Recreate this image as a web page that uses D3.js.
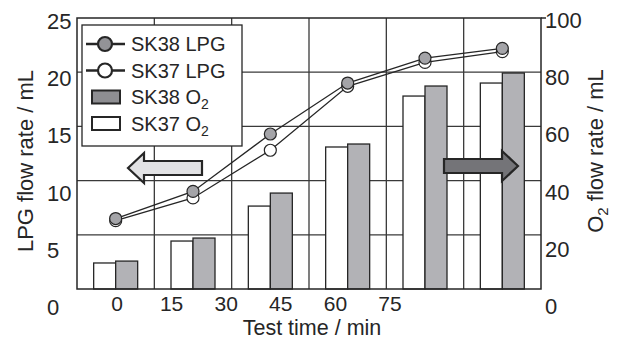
<!DOCTYPE html>
<html>
<head>
<meta charset="utf-8">
<script src="https://cdn.jsdelivr.net/npm/d3@7"></script>
<style>
  body { margin: 0; background: #fff; }
  svg { display: block; font-family: "Liberation Sans", Arial, sans-serif; }
</style>
</head>
<body>
<svg id="chart" width="626" height="340"></svg>
<script>
// values
const times = [0, 15, 30, 45, 60, 75];
const sk38Lpg = [6.5, 9.0, 14.3, 19.0, 21.3, 22.2];
const sk37Lpg = [6.3, 8.4, 12.8, 18.7, 20.9, 21.9];
const sk38O2 = [10.3, 18.8, 35.4, 53.5, 74.9, 79.7];
const sk37O2 = [9.6, 17.7, 30.6, 52.4, 71.2, 76.0];
const lpgTicks = [0, 5, 10, 15, 20, 25];
const o2Ticks = [0, 20, 40, 60, 80, 100];
const timeTicks = [0, 15, 30, 45, 60, 75];

const W = 626, H = 340;
const plot = {left: 77, right: 541, top: 18, bottom: 289};
const ink = '#262626';

const svg = d3.select('#chart');
svg.append('rect').attr('width', W).attr('height', H).attr('fill', '#fff');

const x = d3.scaleBand().domain(times).range([plot.left, plot.right]);
const yL = d3.scaleLinear().domain([0, 25]).range([plot.bottom, plot.top]);
const yR = d3.scaleLinear().domain([0, 100]).range([plot.bottom, plot.top]);
// the tick labels in the original sit a bit off the grid
const yLabL = d3.scaleLinear().domain([0, 25]).range([307, 21]);
const yLabR = d3.scaleLinear().domain([0, 100]).range([306, 20]);
const xLab = d3.scaleLinear().domain([0, 75]).range([117, 390]);
const cx = t => x(t) + x.bandwidth() / 2;
const barW = 22;

// grid
const grid = svg.append('g').attr('stroke', '#3a3a3a').attr('stroke-width', 1.3);
grid.selectAll('line.h').data(lpgTicks.slice(1, -1)).join('line')
  .attr('x1', plot.left).attr('x2', plot.right)
  .attr('y1', d => yL(d)).attr('y2', d => yL(d));
grid.selectAll('line.v').data(times.slice(1)).join('line')
  .attr('x1', d => x(d)).attr('x2', d => x(d))
  .attr('y1', plot.top).attr('y2', plot.bottom);

// O2 bars
const bars = svg.append('g').attr('stroke', ink).attr('stroke-width', 1.3);
bars.selectAll('rect.w').data(times).join('rect')
  .attr('x', t => cx(t) - barW).attr('width', barW)
  .attr('y', (t, i) => yR(sk37O2[i]))
  .attr('height', (t, i) => yR(0) - yR(sk37O2[i]))
  .attr('fill', '#fff');
bars.selectAll('rect.g').data(times).join('rect')
  .attr('x', t => cx(t)).attr('width', barW)
  .attr('y', (t, i) => yR(sk38O2[i]))
  .attr('height', (t, i) => yR(0) - yR(sk38O2[i]))
  .attr('fill', '#b2b2b6');

// frame
svg.append('rect')
  .attr('x', plot.left).attr('y', plot.top)
  .attr('width', plot.right - plot.left).attr('height', plot.bottom - plot.top)
  .attr('fill', 'none').attr('stroke', ink).attr('stroke-width', 1.5);
svg.append('line').attr('x1', plot.right).attr('x2', plot.right + 5)
  .attr('y1', plot.top).attr('y2', plot.top).attr('stroke', ink).attr('stroke-width', 1.5);

// LPG lines, SK37 under SK38
const line = d3.line().x((d, i) => cx(times[i])).y(d => yL(d));
function series(vals, fill) {
  const g = svg.append('g');
  g.append('path').datum(vals).attr('d', line)
    .attr('fill', 'none').attr('stroke', ink).attr('stroke-width', 1.3);
  g.selectAll('circle').data(vals).join('circle')
    .attr('cx', (d, i) => cx(times[i])).attr('cy', d => yL(d)).attr('r', 6)
    .attr('fill', fill).attr('stroke', ink).attr('stroke-width', 1.2);
}
series(sk37Lpg, '#fff');
series(sk38Lpg, '#a4a4a8');

// tick labels
const tickFont = 22;
svg.append('g').selectAll('text').data(lpgTicks).join('text')
  .attr('x', 47).attr('y', d => yLabL(d)).attr('dy', '0.36em')
  .attr('font-size', tickFont).attr('fill', ink).text(d => d);
svg.append('g').selectAll('text').data(o2Ticks).join('text')
  .attr('x', 545).attr('y', d => yLabR(d)).attr('dy', '0.36em')
  .attr('font-size', tickFont).attr('fill', ink).text(d => d);
svg.append('g').selectAll('text').data(timeTicks).join('text')
  .attr('x', d => xLab(d)).attr('y', 311).attr('text-anchor', 'middle')
  .attr('font-size', 21).attr('fill', ink).text(d => d);

// axis titles
svg.append('text').attr('transform', 'translate(33,161) rotate(-90)')
  .attr('text-anchor', 'middle').attr('font-size', 22).attr('fill', ink)
  .text('LPG flow rate / mL');
const rt = svg.append('text').attr('transform', 'translate(603,151) rotate(-90)')
  .attr('text-anchor', 'middle').attr('font-size', 22).attr('fill', ink);
rt.append('tspan').text('O');
rt.append('tspan').attr('font-size', 15).attr('dy', 5).text('2');
rt.append('tspan').attr('dy', -5).text(' flow rate / mL');
svg.append('text').attr('x', 312).attr('y', 335).attr('text-anchor', 'middle')
  .attr('font-size', 21.5).attr('fill', ink).text('Test time / min');

// legend
const lg = svg.append('g').attr('transform', 'translate(82,25)');
lg.append('rect').attr('width', 160).attr('height', 121)
  .attr('fill', '#fff').attr('stroke', ink).attr('stroke-width', 1.3);
const legendItems = [
  {label: 'SK38 LPG', kind: 'dot', fill: '#939397'},
  {label: 'SK37 LPG', kind: 'dot', fill: '#fff'},
  {label: 'SK38 O', sub: '2', kind: 'bar', fill: '#8e8e92'},
  {label: 'SK37 O', sub: '2', kind: 'bar', fill: '#fff'}
];
const row = lg.selectAll('g').data(legendItems).join('g')
  .attr('transform', (d, i) => `translate(0,${19 + i * 26.5})`);
row.filter(d => d.kind === 'dot').each(function (d) {
  const g = d3.select(this);
  g.append('line').attr('x1', 4).attr('x2', 43).attr('stroke', ink).attr('stroke-width', 2.4);
  g.append('circle').attr('cx', 23).attr('r', 7).attr('fill', d.fill)
    .attr('stroke', ink).attr('stroke-width', 2.2);
});
row.filter(d => d.kind === 'bar').append('rect')
  .attr('x', 10).attr('y', -6.5).attr('width', 28).attr('height', 13)
  .attr('fill', d => d.fill).attr('stroke', ink).attr('stroke-width', 2);
const lt = row.append('text').attr('x', 49).attr('y', 7)
  .attr('font-size', 20).attr('fill', ink);
lt.append('tspan').text(d => d.label);
lt.filter(d => d.sub).append('tspan').attr('font-size', 14).attr('dy', 5).text(d => d.sub);

// arrows (left -> LPG axis, right -> O2 axis)
function arrow(tipX, tipY, dir, len, fill) {
  const bodyH = 7, headH = 15, headL = 16;
  const b = tipX - dir * headL, e = tipX - dir * len;
  const pts = [[tipX, tipY], [b, tipY - headH], [b, tipY - bodyH], [e, tipY - bodyH],
               [e, tipY + bodyH], [b, tipY + bodyH], [b, tipY + headH]];
  svg.append('path').attr('d', d3.line()(pts) + 'Z')
    .attr('fill', fill).attr('stroke', ink).attr('stroke-width', 2.2)
    .attr('stroke-linejoin', 'miter');
}
arrow(128, 168, -1, 74, '#e2e2e4');
arrow(518, 166, 1, 74, '#747478');
</script>
</body>
</html>
